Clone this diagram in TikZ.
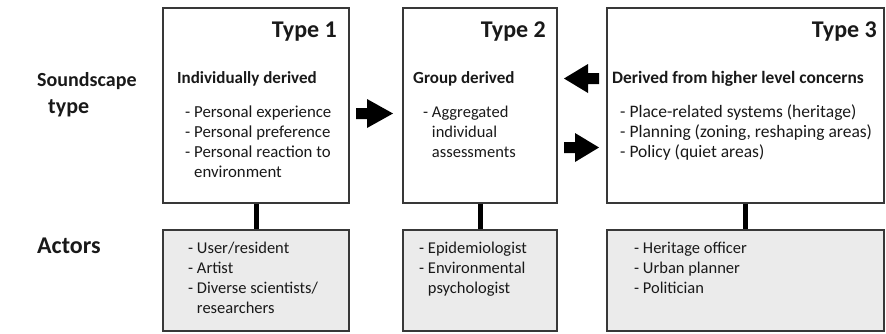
\documentclass[tikz,border=0pt]{standalone}
\usepackage{fontspec}
\setmainfont{Carlito}
\newcommand\itemlines[1]{\begin{tabular}[t]{@{}l@{}}#1\end{tabular}}
\newcommand\hang{\hphantom{- }}
\begin{document}
\begin{tikzpicture}[x=1pt,y=-1pt,
  typebox/.style={draw=black!78,line width=1.3pt,fill=white,inner sep=0pt},
  actorbox/.style={draw=black!78,line width=1.3pt,fill=black!8,inner sep=0pt},
  link/.style={line width=5pt,black},
  txt/.style={inner sep=0pt,text=black!90},
  bigtitle/.style={txt,font=\fontsize{24}{28}\selectfont\bfseries},
  subtitle/.style={txt,font=\fontsize{17}{20}\selectfont\bfseries},
  body/.style={txt,font=\fontsize{16.5}{20}\selectfont},
  widebody/.style={txt,font=\fontsize{17.5}{20}\selectfont},
  sidelabel/.style={txt,font=\fontsize{22}{28}\selectfont\bfseries},
  blockarrow/.style={fill=black}]
\useasboundingbox (0,0) rectangle (886,333);

% soundscape type boxes
\node[typebox,minimum width=186pt,minimum height=195pt] (t1) at (256,105.5) {};
\node[typebox,minimum width=154pt,minimum height=195pt] (t2) at (480,105.5) {};
\node[typebox,minimum width=277pt,minimum height=195pt] (t3) at (745.5,105.5) {};

% actor boxes
\node[actorbox,minimum width=186pt,minimum height=101pt] (a1) at (256,280.5) {};
\node[actorbox,minimum width=154pt,minimum height=101pt] (a2) at (480,280.5) {};
\node[actorbox,minimum width=277pt,minimum height=101pt] (a3) at (745.5,280.5) {};

% links between each type and its actors
\draw[link] (t1.south) -- (a1.north);
\draw[link] (t2.south) -- (a2.north);
\draw[link] (t3.south) -- (a3.north);

% row labels
\node[sidelabel,font=\fontsize{20}{28}\selectfont\bfseries,anchor=base west] (lab1) at (37,86) {Soundscape};
\node[sidelabel,anchor=base west] (lab2) at (48,113) {type};
\node[sidelabel,font=\fontsize{24}{28}\selectfont\bfseries,anchor=base west] (lab3) at (37,253) {Actors};

% headings
\node[bigtitle,anchor=base east] (h1) at (337,37) {Type 1};
\node[bigtitle,anchor=base east] (h2) at (546,37) {Type 2};
\node[bigtitle,anchor=base east] (h3) at (877,37) {Type 3};

\node[subtitle,anchor=base west] (s1) at (177,83) {Individually derived};
\node[subtitle,anchor=base west] (s2) at (413,83) {Group derived};
\node[subtitle,font=\fontsize{17.4}{20}\selectfont\bfseries,anchor=base west] (s3) at (612,83) {Derived from higher level concerns};

% descriptions
\node[body,font=\fontsize{16.8}{20}\selectfont,anchor=base west] (d1) at (185,117) {\itemlines{- Personal experience\\- Personal preference\\- Personal reaction to\\\hang environment}};
\node[body,anchor=base west] (d2) at (423,117) {\itemlines{- Aggregated\\\hang individual\\\hang assessments}};
\node[widebody,anchor=base west] (d3) at (620,117) {\itemlines{- Place-related systems (heritage)\\- Planning (zoning, reshaping areas)\\- Policy (quiet areas)}};

% actors
\node[body,anchor=base west] (r1) at (188,253) {\itemlines{- User/resident\\- Artist\\- Diverse scientists/\\\hang researchers}};
\node[body,anchor=base west] (r2) at (419,253) {\itemlines{- Epidemiologist\\- Environmental\\\hang psychologist}};
\node[body,anchor=base west] (r3) at (634,253) {\itemlines{- Heritage officer\\- Urban planner\\- Politician}};

% block arrows between the types
\fill[blockarrow] (356,108) -- (367,108) -- (367,99) -- (393,113.5) -- (367,128) -- (367,119) -- (356,119) -- cycle;
\fill[blockarrow] (599,73) -- (588,73) -- (588,64) -- (564,78.5) -- (588,93) -- (588,84) -- (599,84) -- cycle;
\fill[blockarrow] (564,142) -- (575,142) -- (575,133) -- (599,147.5) -- (575,162) -- (575,153) -- (564,153) -- cycle;
\end{tikzpicture}
\end{document}
